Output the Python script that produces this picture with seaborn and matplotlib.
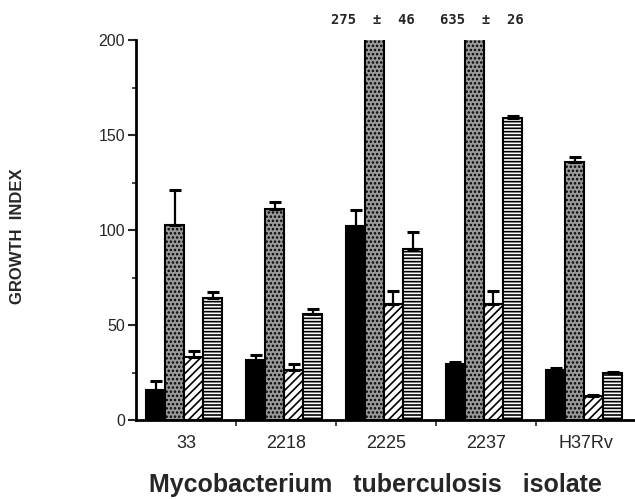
import numpy as np
import pandas as pd
import matplotlib
matplotlib.use("Agg")
import matplotlib.pyplot as plt
import seaborn as sns

isolates = ["33", "2218", "2225", "2237", "H37Rv"]
treatments = ["A", "B", "C", "D"]
val_a = [16, 31.5, 102, 29.5, 26.5]
err_a = [4.5, 2.5, 8.5, 0.8, 0.8]
val_b = [102.5, 111, 275, 635, 136]
err_b = [18.5, 3.5, 46, 26, 2.5]
val_c = [33, 26.5, 61, 61, 12.5]
err_c = [3.5, 3, 7, 7, 0.8]
val_d = [64, 56, 90, 159, 24.5]
err_d = [3.5, 2.5, 9, 0.8, 0.8]
annotations = ["275  \u00b1  46", "635  \u00b1  26"]

values = [val_a, val_b, val_c, val_d]
errors = [err_a, err_b, err_c, err_d]

rows = []
for t, vs in zip(treatments, values):
    for iso, v in zip(isolates, vs):
        rows.append({"isolate": iso, "treatment": t, "value": v})
df = pd.DataFrame(rows)

sns.set_style("white")
plt.rcParams["font.family"] = ["Liberation Sans", "DejaVu Sans"]
plt.rcParams["hatch.linewidth"] = 1.2

fig = plt.figure(figsize=(6.35, 4.99), dpi=100)
ax = fig.add_axes([136/635, 79/499, 499/635, 380/499])

sns.barplot(data=df, x="isolate", y="value", hue="treatment", order=isolates,
            hue_order=treatments, errorbar=None, width=0.76, dodge=True,
            palette=["black", "#9a9a9a", "white", "white"],
            edgecolor="black", linewidth=1.5, legend=False, ax=ax)

hatches = [None, "....", "////", "-----"]
bar_conts = list(ax.containers)
for ci, cont in enumerate(bar_conts):
    for p in cont.patches:
        if hatches[ci]:
            p.set_hatch(hatches[ci])
        p.set_x(p.get_x() - 0.02)
    xs = [p.get_x() + p.get_width() / 2 for p in cont.patches]
    vs = values[ci]
    es = errors[ci]
    ax.errorbar(xs, vs, yerr=[np.zeros(len(es)), es], fmt="none",
                ecolor="black", elinewidth=1.6, capsize=4, capthick=2.2, zorder=1)

ax.set_ylim(0, 200)
ax.set_xlim(-0.5, 4.49)
ax.set_yticks([0, 50, 100, 150, 200])
ax.set_yticks([25, 75, 125, 175], minor=True)
ax.set_xticks([0.5, 1.5, 2.5, 3.5], minor=True)
ax.tick_params(axis="y", which="major", direction="out", length=6, width=1.5,
               labelsize=11.5, left=True, pad=2)
ax.tick_params(axis="y", which="minor", direction="out", length=3, width=1.2, left=True)
ax.tick_params(axis="x", which="major", length=0, labelsize=13, pad=11)
ax.tick_params(axis="x", which="minor", direction="out", length=4, width=1.2, bottom=True)

for s in ["top", "right"]:
    ax.spines[s].set_visible(False)
for s in ["left", "bottom"]:
    ax.spines[s].set_linewidth(2)
    ax.spines[s].set_color("black")

ax.set_xlabel("")
ax.set_ylabel("")
fig.text(18/635, 1 - 236/499, "GROWTH  INDEX", rotation=90, ha="center",
         va="center", fontsize=12, fontweight="bold")
fig.text(375/635, 7/499, "Mycobacterium   tuberculosis   isolate", ha="center",
         va="baseline", fontsize=18, fontweight="bold")

fig.text(373/635, 1 - 20/499, annotations[0], ha="center", va="center",
         fontsize=10, fontweight="bold", family="DejaVu Sans Mono")
fig.text(482/635, 1 - 20/499, annotations[1], ha="center", va="center",
         fontsize=10, fontweight="bold", family="DejaVu Sans Mono")

fig.savefig("out.png", dpi=100)
